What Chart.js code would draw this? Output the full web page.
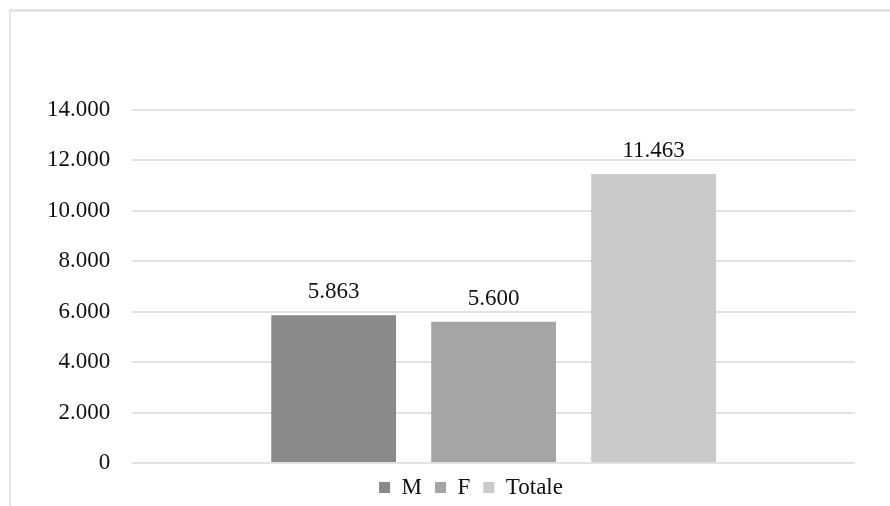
<!DOCTYPE html>
<html>
<head>
<meta charset="utf-8">
<script src="https://cdn.jsdelivr.net/npm/chart.js@4/dist/chart.umd.min.js"></script>
<style>
  html, body { margin: 0; padding: 0; background: #fff; }
  #wrap { position: relative; width: 890px; height: 506px; }
  #frame {
    position: absolute; left: 9px; top: 9px; width: 900px; height: 520px;
    border-left: 2px solid #e4e4e4; border-top: 3px solid #e4e4e4;
    pointer-events: none;
  }
</style>
</head>
<body>
<div id="wrap">
  <canvas id="chart" width="890" height="506"></canvas>
  <div id="frame"></div>
</div>
<script>
// series
var categories = [''];
var seriesNames = ['M', 'F', 'Totale'];
var seriesValues = [5863, 5600, 11463];
var seriesColors = ['#898989', '#a5a5a5', '#cacaca'];
var yMin = 0, yMax = 14000, yStep = 2000;

var serif = "'Liberation Serif', 'Times New Roman', serif";

// 5863 -> 5.863
function fmt(v) {
    return String(v).replace(/\B(?=(\d{3})+(?!\d))/g, '.');
}

var datasets = [];
for (var i = 0; i < seriesNames.length; i++) {
    datasets.push({
        label: seriesNames[i],
        data: [seriesValues[i]],
        backgroundColor: seriesColors[i],
        borderWidth: 0,
        categoryPercentage: 0.664,
        barPercentage: 0.78
    });
}

// value on top of each bar
var barLabels = {
    id: 'barLabels',
    afterDatasetsDraw: function(chart) {
        var ctx = chart.ctx;
        ctx.save();
        ctx.font = '23px ' + serif;
        ctx.fillStyle = '#111';
        ctx.textAlign = 'center';
        ctx.textBaseline = 'alphabetic';
        chart.data.datasets.forEach(function(ds, di) {
            chart.getDatasetMeta(di).data.forEach(function(bar, j) {
                ctx.fillText(fmt(ds.data[j]), bar.x, bar.y - 17);
            });
        });
        ctx.restore();
    }
};

// nudge the legend a bit to the right
var legendShift = {
    id: 'legendShift',
    afterLayout: function(chart) {
        if (chart.legend) {
            chart.legend.left += 31;
            chart.legend.right += 31;
        }
    }
};

var chart = new Chart(document.getElementById('chart').getContext('2d'), {
    type: 'bar',
    data: {
        labels: categories,
        datasets: datasets
    },
    options: {
        responsive: false,
        animation: false,
        layout: { padding: { top: 110, right: 35, bottom: -3, left: 25 } },
        plugins: {
            legend: {
                position: 'bottom',
                labels: {
                    color: '#111',
                    font: { family: serif, size: 23 },
                    boxWidth: 11,
                    boxHeight: 11,
                    padding: 13
                }
            },
            tooltip: { enabled: false }
        },
        scales: {
            x: { display: false },
            y: {
                min: yMin,
                max: yMax,
                border: { display: false },
                grid: { color: '#e2e2e2', lineWidth: 2, drawTicks: false },
                ticks: {
                    stepSize: yStep,
                    padding: 22,
                    color: '#111',
                    font: { family: serif, size: 23 },
                    callback: function(v) { return fmt(v); }
                }
            }
        }
    },
    plugins: [barLabels, legendShift]
});
</script>
</body>
</html>
